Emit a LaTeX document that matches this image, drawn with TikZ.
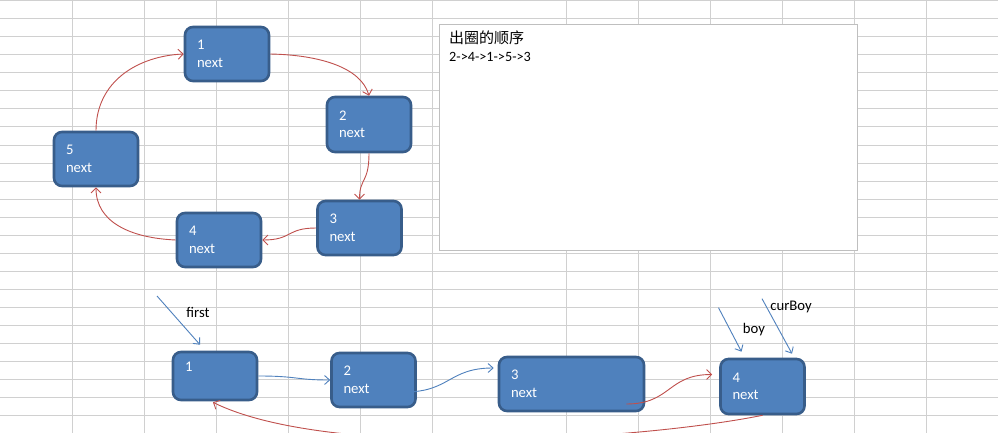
\documentclass[tikz,border=0pt]{standalone}
\usepackage{fontspec}
\setmainfont{Carlito}
\newfontfamily\cjk{Noto Sans CJK SC}
\usetikzlibrary{arrows.meta,calc}
\definecolor{boxfill}{HTML}{4F81BD}
\definecolor{boxline}{HTML}{385D8A}
\definecolor{redline}{HTML}{C0504D}
\definecolor{blueline}{HTML}{4F81BD}
\definecolor{gridc}{HTML}{D0D0D0}
\definecolor{framec}{HTML}{BFBFBF}
\begin{document}
\begin{tikzpicture}[x=1pt,y=-1pt,
  font=\fontsize{14.7}{17.5}\selectfont,
  gridline/.style={draw=gridc, line width=1pt},
  box/.style={draw=boxline, fill=boxfill, line width=2.6pt, rounded corners=8pt,
    text=white, align=left, inner xsep=12pt, inner ysep=0pt,
    minimum width=84pt, minimum height=54pt, text width=60pt},
  redarr/.style={draw=redline, line width=0.9pt, -{Straight Barb[length=5pt,width=10pt]}},
  bluearr/.style={draw=blueline, line width=0.9pt, -{Straight Barb[length=5pt,width=9pt]}},
  lbl/.style={text=black, inner sep=0pt}]
\useasboundingbox (0,0) rectangle (998,433);
\clip (0,0) rectangle (998,433);
\fill[white] (0,0) rectangle (998,433);
% spreadsheet grid
\foreach \y in {1,19,...,433} \draw[gridline] (0,\y) -- (998,\y);
\foreach \x in {72.5,144.5,216.5,288.5,360.5,432.5,566,638,710,782,854,926}
  \draw[gridline] (\x,0) -- (\x,433);
% order text box
\node[draw=framec, fill=white, line width=1pt, minimum width=418pt, minimum height=226pt, inner sep=0pt] (order) at (648.5,137.5) {};
\node[lbl, anchor=west] (title) at (449,38) {\cjk\fontsize{15}{17}\selectfont 出圈的顺序};
\node[lbl, anchor=west] (seq) at (449,57) {\fontsize{14.2}{16}\selectfont 2->4->1->5->3};
% ring nodes
\node[box] (t1) at (227,54) {1\\next};
\node[box, minimum height=55pt] (t2) at (369,124.5) {2\\next};
\node[box] (t3) at (359.5,228) {3\\next};
\node[box] (t4) at (219,240) {4\\next};
\node[box] (t5) at (96,159) {5\\next};
% bottom row
\node[box, minimum height=48pt] (b1) at (215,376) {1\\\mbox{}};
\node[box] (b2) at (373.5,380) {2\\next};
\node[box, minimum width=145pt, text width=121pt] (b3) at (571.5,384) {3\\next};
\node[box, minimum height=55pt] (b4) at (762.5,386.5) {4\\next};
% ring arrows
\draw[redarr] (t1.east) .. controls +(50,1) and +(-8,-28) .. (t2.north);
\draw[redarr] (t2.south) .. controls +(0,30) and +(0,-22) .. (t3.north);
\draw[redarr] (t3.west) .. controls +(-30,0) and +(30,0) .. (t4.east);
\draw[redarr] (t4.west) .. controls +(-45,-2) and +(0,35) .. (t5.south);
\draw[redarr] (t5.north) .. controls +(0,-50) and +(-45,2) .. (t1.west);
% pointers
\coordinate (firstA) at (157,296);
\draw[bluearr] (firstA) -- ($(b1.north)+(-15,-6)$);
\node[lbl] (firstlbl) at (198,312) {first};
\draw[bluearr] ($(b4.north)+(-44,-50)$) -- ($(b4.north)+(-21,-6)$);
\node[lbl] (boylbl) at (754,330) {boy};
\draw[bluearr] ($(b4.north)+(-0.5,-59)$) -- ($(b4.north)+(29.5,-4)$);
\node[lbl] (curlbl) at (791,307) {curBoy};
% bottom arrows
\draw[bluearr] (b1.east) .. controls +(40,0) and +(-35,0) .. (b2.west);
\draw[bluearr] ($(b2.east)+(-12,12)$) .. controls +(45,0) and +(-45,0) .. ($(b3.west)+(-4,-16)$);
\draw[redarr] ($(b3.east)+(-19,20)$) .. controls +(45,0) and +(-45,0) .. ($(b4.west)+(-7,-12)$);
\draw[redarr] (b4.south) .. controls (640,440) and (330,460) .. ($(b1.south)+(-2,1)$);
\end{tikzpicture}
\end{document}
